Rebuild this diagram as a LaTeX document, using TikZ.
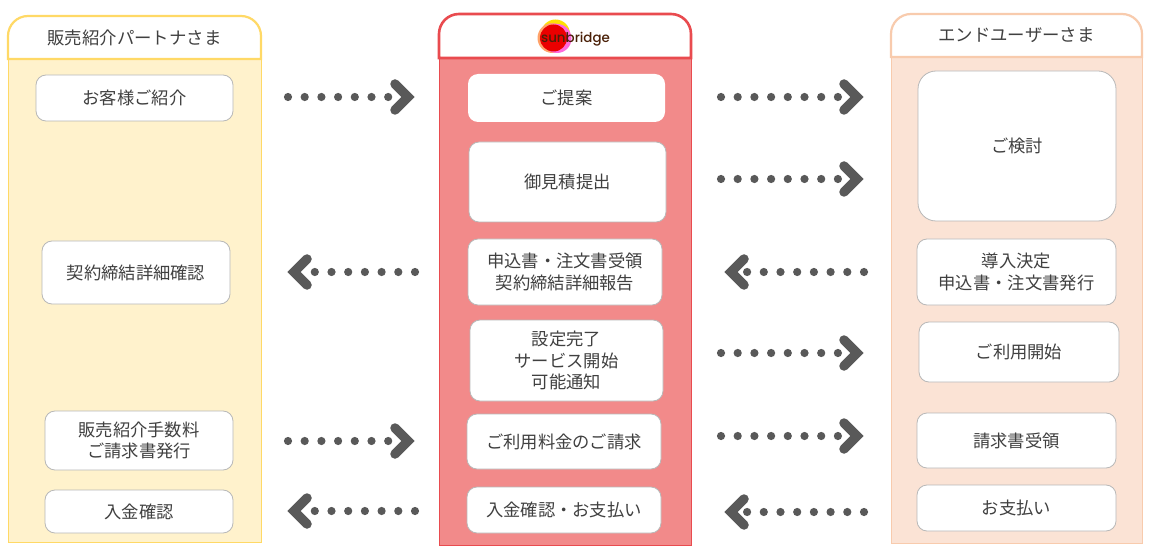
\documentclass[tikz,border=0pt]{standalone}
\usepackage{fontspec}
\setmainfont{Noto Sans CJK JP}
\newfontfamily\logofont{Poppins Medium}
\definecolor{ink}{HTML}{404040}
\definecolor{arrowgrey}{HTML}{595959}
\definecolor{logotext}{HTML}{4A2008}
\definecolor{ybd}{HTML}{FFD966}\definecolor{yfl}{HTML}{FFF2CC}
\definecolor{rbd}{HTML}{E94B4F}\definecolor{rfl}{HTML}{F28A8A}
\definecolor{obd}{HTML}{F8CBAD}\definecolor{ofl}{HTML}{FBE3D5}
\tikzset{
  x=1pt,y=-1pt,
  panelhead/.style={line width=2.2pt,fill=white},
  card/.style={rounded corners=#1,fill=white,inner sep=0pt,align=center,text=ink,font=\fontsize{17.3}{21.4}\selectfont},
  card/.default=10pt,
  cardline/.style={draw=black!28,line width=0.8pt},
  headtext/.style={text=ink,font=\fontsize{17.4}{22}\selectfont},
  dotline/.style={arrowgrey,line width=8.2pt,line cap=round,dash pattern=on 0pt off 16.7pt},
  chevron/.style={arrowgrey,line width=9.5pt,line cap=round,line join=miter,miter limit=10},
}
% name, x1, y1, x2, y2, style, text
\newcommand{\cardbox}[7]{%
  \pgfmathsetmacro{\cx}{(#2+#4)/2}\pgfmathsetmacro{\cy}{(#3+#5)/2}%
  \pgfmathsetmacro{\cw}{#4-#2}\pgfmathsetmacro{\ch}{#5-#3}%
  \node[card,#6,minimum width=\cw pt,minimum height=\ch pt] (#1) at (\cx,\cy) {#7};}
% name, first dot x, last dot x, y, chevron tip x
\newcommand{\flowright}[5]{%
  \coordinate (#1s) at (#2,#4);\coordinate (#1e) at (#3,#4);\coordinate (#1t) at (#5,#4);
  \draw[dotline] (#1s) -- ([xshift=0.4pt]#1e);
  \draw[chevron] ([shift={(-13,-13)}]#1t) -- (#1t) -- ([shift={(-13,13)}]#1t);}
\newcommand{\flowleft}[5]{%
  \coordinate (#1s) at (#2,#4);\coordinate (#1e) at (#3,#4);\coordinate (#1t) at (#5,#4);
  \draw[dotline] (#1s) -- ([xshift=-0.4pt]#1e);
  \draw[chevron] ([shift={(13,-13)}]#1t) -- (#1t) -- ([shift={(13,13)}]#1t);}
\begin{document}
\begin{tikzpicture}
\useasboundingbox (0,0) rectangle (1157,548);
\fill[white] (0,0) rectangle (1157,548);
% left panel
\draw[draw=ybd,fill=yfl,line width=0.8pt] (8,59) rectangle (261,542);
\draw[panelhead,draw=ybd] (8,59) [rounded corners=20pt] -- (8,16) -- (261,16) [sharp corners] -- (261,59) -- cycle;
\node[headtext] (headL) at (134.5,37.5) {販売紹介パートナさま};
% centre panel
\draw[draw=rbd,fill=rfl,line width=1pt] (439,58) rectangle (691,545);
\draw[panelhead,draw=rbd,line width=2.6pt] (439,58) [rounded corners=20pt] -- (439,14) -- (691,14) [sharp corners] -- (691,58) -- cycle;
\fill[yellow!85!orange] (555.5,34) circle (14.5);
\fill[orange!45!pink] (552.5,38) circle (15);
\fill[pink!55!magenta] (557,38.5) circle (14.5);
\fill[red!92!black] (553.5,38) circle (13.5);
\node[inner sep=0pt,text=logotext,font=\logofont\fontsize{13.4}{14}\selectfont] (logo) at (575.5,39.5) {sunbridge};
% right panel
\draw[draw=obd,fill=ofl,line width=0.8pt] (891,57) rectangle (1142,543);
\draw[panelhead,draw=obd] (891,57) [rounded corners=20pt] -- (891,14) -- (1142,14) [sharp corners] -- (1142,57) -- cycle;
\node[headtext] (headR) at (1016.5,35) {エンドユーザーさま};
% left cards
\cardbox{l1}{36}{75}{233}{121}{cardline}{\raisebox{1.5pt}{お客様ご紹介}}
\cardbox{l2}{42}{241}{230}{304}{cardline}{契約締結詳細確認}
\cardbox{l3}{45}{411}{233}{470}{cardline}{販売紹介手数料\\ご請求書発行}
\cardbox{l4}{45}{490}{233}{533}{cardline}{\raisebox{0.7pt}{入金確認}}
% centre cards
\cardbox{c1}{468}{74}{665}{122}{}{\raisebox{1pt}{ご提案}}
\cardbox{c2}{469}{142}{666}{222}{cardline}{御見積提出}
\cardbox{c3}{468}{239}{662}{305}{cardline}{申込書・注文書受領\\契約締結詳細報告}
\cardbox{c4}{470}{320}{663}{401}{cardline}{設定完了\\サービス開始\\可能通知}
\cardbox{c5}{467}{414}{661}{469}{cardline}{ご利用料金のご請求}
\cardbox{c6}{467}{487}{661}{533}{cardline}{入金確認・お支払い}
% right cards
\cardbox{r1}{918}{71}{1116}{221}{cardline,card=18pt}{ご検討}
\cardbox{r2}{917}{239}{1116}{305}{cardline}{導入決定\\申込書・注文書発行}
\cardbox{r3}{919}{322}{1119}{382}{cardline}{ご利用開始}
\cardbox{r4}{917}{413}{1116}{468}{cardline}{\raisebox{0.7pt}{請求書受領}}
\cardbox{r5}{917}{485}{1116}{531}{cardline}{お支払い}
% flows
\flowright{fa}{288}{388.2}{97}{408}
\flowleft{fb}{415}{314.8}{272}{294}
\flowright{fc}{288}{388.2}{441}{408}
\flowleft{fd}{415}{314.8}{511}{294}
\flowright{fe}{721}{837.9}{97}{857}
\flowright{ff}{721}{837.9}{179}{857}
\flowleft{fg}{864}{747.1}{272}{731}
\flowright{fh}{721}{837.9}{353}{857}
\flowright{fi}{721}{837.9}{436}{857}
\flowleft{fj}{864}{747.1}{512}{731}
\end{tikzpicture}
\end{document}
